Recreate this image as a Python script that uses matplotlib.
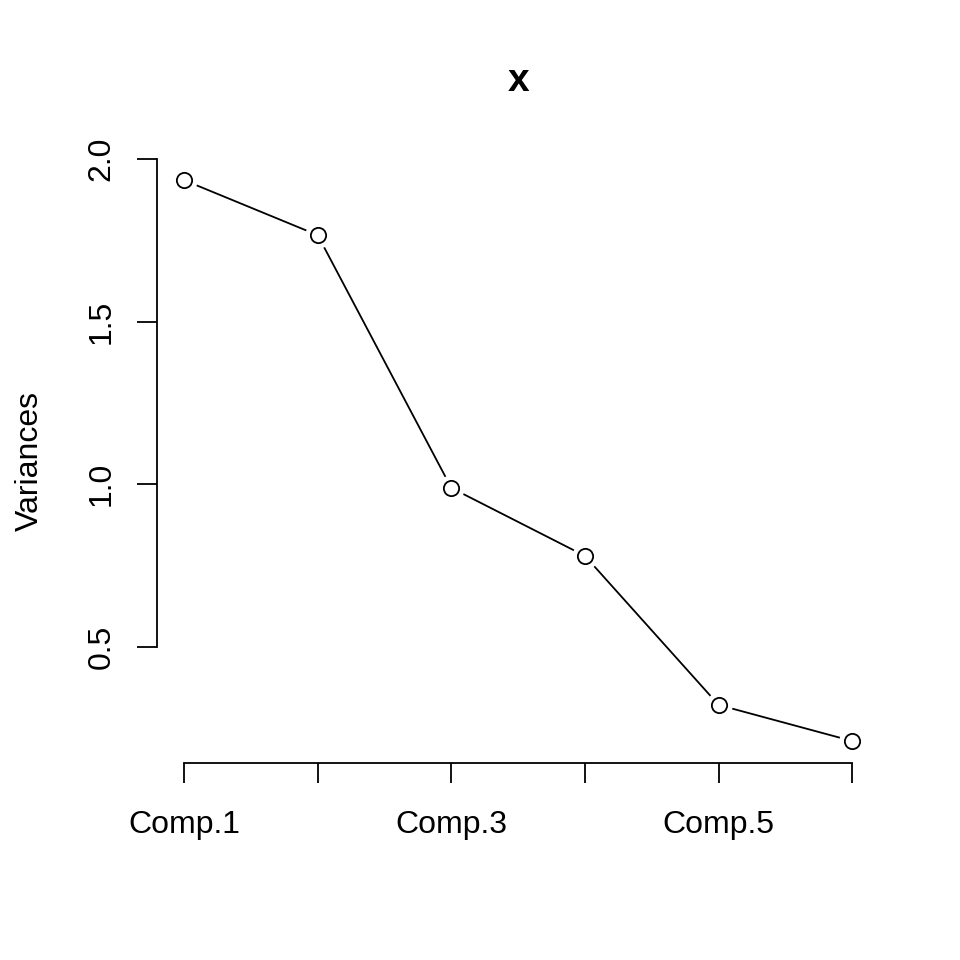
import matplotlib
matplotlib.use("Agg")
import matplotlib.pyplot as plt

# screeplot values
components = ["Comp.1", "Comp.2", "Comp.3", "Comp.4", "Comp.5", "Comp.6"]
variances = [1.935, 1.766, 0.989, 0.780, 0.322, 0.211]
shown_labels = ["Comp.1", "", "Comp.3", "", "Comp.5", ""]
y_ticks = [0.5, 1.0, 1.5, 2.0]

plt.rcParams["font.family"] = ["Liberation Sans", "DejaVu Sans"]

fig = plt.figure(figsize=(9.6, 9.6), dpi=100)
ax = fig.add_axes([0.1639, 0.2047, 0.7517, 0.6310])

x = list(range(1, len(variances) + 1))
pad_x = 0.04 * (x[-1] - x[0])
pad_y = 0.04 * (max(variances) - min(variances))
ax.set_xlim(x[0] - pad_x, x[-1] + pad_x)
ax.set_ylim(min(variances) - pad_y, max(variances) + pad_y)

# line with gaps around points (R type="b")
ax.plot(x, variances, color="black", lw=1.3, zorder=1)
ax.plot(x, variances, ls="none", marker="o", ms=19, mfc="white", mec="none", zorder=2)
ax.plot(x, variances, ls="none", marker="o", ms=11, mfc="white", mec="black", mew=1.3, zorder=3)

for s in ["top", "right"]:
    ax.spines[s].set_visible(False)
ax.spines["left"].set_bounds(y_ticks[0], y_ticks[-1])
ax.spines["bottom"].set_bounds(x[0], x[-1])
for s in ["left", "bottom"]:
    ax.spines[s].set_linewidth(1.3)

ax.set_xticks(x)
ax.set_xticklabels(shown_labels)
ax.set_yticks(y_ticks)
ax.set_yticklabels(["0.5", "1.0", "1.5", "2.0"], rotation=90, va="center")
ax.tick_params(axis="both", direction="out", length=14.4, width=1.3, labelsize=23)
ax.tick_params(axis="x", pad=19)
ax.tick_params(axis="y", pad=15)

ax.set_ylabel("Variances", fontsize=23, labelpad=30)
ax.set_title("x", fontsize=28, fontweight="bold", pad=48)

fig.savefig("out.png", dpi=100)
